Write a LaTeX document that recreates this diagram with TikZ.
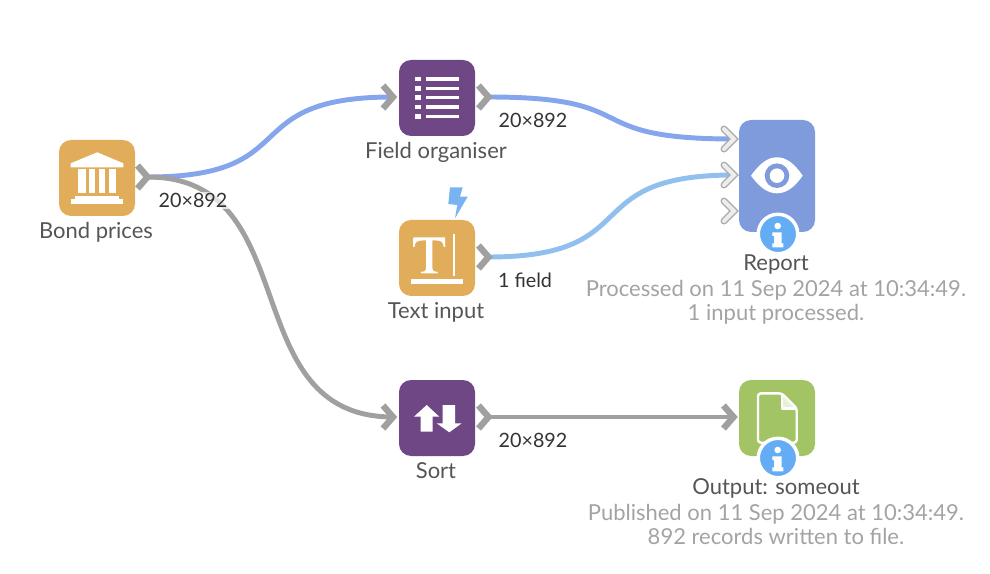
\documentclass[tikz,border=0pt]{standalone}
\usepackage{fontspec}
\setmainfont{Lato}
\usepackage{xcolor}
\usepackage{tikz}
\usetikzlibrary{calc}
\definecolor{ambra}{HTML}{E2AD5A}
\definecolor{viola}{HTML}{6F4785}
\definecolor{azzurro}{HTML}{7F9BDB}
\definecolor{verde}{HTML}{A3C464}
\definecolor{info}{HTML}{64ADF5}
\definecolor{bolt}{HTML}{78B5F0}
\definecolor{linkblue}{HTML}{85A5EC}
\definecolor{linksky}{HTML}{92C0EE}
\definecolor{linkgrey}{HTML}{A0A0A0}
\definecolor{portpale}{HTML}{EDEDED}
\definecolor{testo}{HTML}{555555}
\definecolor{dati}{HTML}{333333}
\definecolor{messaggio}{HTML}{A3A3A3}
\tikzset{
  tool/.style={minimum width=57pt, minimum height=57pt, rounded corners=9pt, inner sep=0pt},
  toolname/.style={anchor=base, text=testo, font=\fontsize{16.5}{20}\selectfont, inner sep=0pt},
  toolmsg/.style={anchor=base, text=messaggio, font=\fontsize{16.5}{20}\selectfont, inner sep=0pt},
  dims/.style={anchor=base, text=dati, font=\fontsize{14.8}{18}\selectfont, inner sep=1pt, fill=white, fill opacity=0.7, text opacity=1},
  link/.style={line width=3.7pt},
  outport/.style={draw=linkgrey, line width=4.8pt},
  inport/.style={draw=portpale, line width=3pt, line cap=round, preaction={draw=linkgrey!90, line width=5.2pt, line cap=round}},
  glyph/.style={fill=white, draw=none},
  badge/.style={circle, fill=info, draw=white, line width=2.6pt, minimum size=29.6pt, inner sep=0pt, outer sep=0pt},
}
\begin{document}
\begin{tikzpicture}[x=0.75pt, y=-0.75pt]
  \useasboundingbox (0,0) rectangle (990,574);

  % Porte di ingresso e uscita
  \coordinate (bondout) at (147.5,177);
  \coordinate (fieldin) at (393,97);
  \coordinate (fieldout) at (488.5,97);
  \coordinate (textout) at (488.5,257);
  \coordinate (sortin) at (393,417);
  \coordinate (sortout) at (488.5,417);
  \coordinate (reportina) at (734,139);
  \coordinate (reportinb) at (734,175);
  \coordinate (reportinc) at (734,211);
  \coordinate (outputin) at (733.5,417);

  % Collegamenti
  \draw[linkblue, link] (bondout) .. controls ($(bondout)+(160,0)$) and ($(fieldin)+(-160,0)$) .. (fieldin);
  \draw[linkblue, link] (fieldout) .. controls ($(fieldout)+(160,0)$) and ($(reportina)+(-160,0)$) .. (reportina);
  \draw[linksky, link] (textout) .. controls ($(textout)+(160,0)$) and ($(reportinb)+(-160,0)$) .. (reportinb);
  \draw[linkgrey, link] (bondout) .. controls ($(bondout)+(160,0)$) and ($(sortin)+(-160,0)$) .. (sortin);
  \draw[linkgrey, link] (sortout) -- (outputin);

  % Frecce delle porte
  \draw[outport] ($(bondout)+(-10,-11.5)$) -- (bondout) -- ($(bondout)+(-10,11.5)$);
  \draw[outport] ($(fieldin)+(-10,-11.5)$) -- (fieldin) -- ($(fieldin)+(-10,11.5)$);
  \draw[outport] ($(fieldout)+(-10,-11.5)$) -- (fieldout) -- ($(fieldout)+(-10,11.5)$);
  \draw[outport] ($(textout)+(-10,-11.5)$) -- (textout) -- ($(textout)+(-10,11.5)$);
  \draw[outport] ($(sortin)+(-10,-11.5)$) -- (sortin) -- ($(sortin)+(-10,11.5)$);
  \draw[outport] ($(sortout)+(-10,-11.5)$) -- (sortout) -- ($(sortout)+(-10,11.5)$);
  \draw[outport] ($(outputin)+(-10,-11.5)$) -- (outputin) -- ($(outputin)+(-10,11.5)$);
  \path[inport] ($(reportina)+(-10,-10)$) -- (reportina) -- ($(reportina)+(-10,10)$);
  \path[inport] ($(reportinb)+(-10,-10)$) -- (reportinb) -- ($(reportinb)+(-10,10)$);
  \path[inport] ($(reportinc)+(-10,-10)$) -- (reportinc) -- ($(reportinc)+(-10,10)$);

  % Riquadri
  \node[tool, fill=ambra] (bond) at (97,178) {};
  \node[tool, fill=viola] (field) at (437,98) {};
  \node[tool, fill=ambra] (textinput) at (437,258) {};
  \node[tool, fill=viola] (sort) at (437,418) {};
  \node[tool, fill=azzurro, minimum height=84pt] (report) at (777,176) {};
  \node[tool, fill=verde] (output) at (777,418) {};

  % Icona banca
  \fill[glyph] (70.7,163.3) -- (97.3,152.3) -- (123.3,163.3) -- (123.3,167.5) -- (70.7,167.5) -- cycle;
  \fill[glyph] (78.3,169) rectangle (85.7,193.5);
  \fill[glyph] (89,169) rectangle (95.3,193.5);
  \fill[glyph] (99,169) rectangle (105.3,193.5);
  \fill[glyph] (108.7,169) rectangle (116,193.5);
  \fill[glyph] (75,196) rectangle (119,199);
  \fill[glyph] (71,199.3) rectangle (123,204);

  % Icona elenco
  \fill[glyph] (415,76.7) rectangle (420.7,81.3);
  \fill[glyph] (415,86) rectangle (420.7,90.6);
  \fill[glyph] (415,95.4) rectangle (420.7,100);
  \fill[glyph] (415,104.7) rectangle (420.7,109.3);
  \fill[glyph] (415,114.4) rectangle (420.7,119);
  \fill[glyph] (426,77.3) rectangle (459.3,80.6);
  \fill[glyph] (426,86.6) rectangle (459.3,89.9);
  \fill[glyph] (426,96) rectangle (459.3,99.3);
  \fill[glyph] (426,105.3) rectangle (459.3,108.6);
  \fill[glyph] (426,115) rectangle (459.3,118.3);

  % Icona testo
  \fill[glyph] (413.3,237.3) -- (445,237.3) -- (445.3,247) -- (443.8,247) .. controls (443.3,242) and (441.5,240.5) .. (436,240.5) -- (432.3,240.5) -- (432.3,268.5) .. controls (432.3,271) and (434,271.8) .. (437.5,271.8) -- (437.5,273.5) -- (421,273.5) -- (421,271.8) .. controls (424.5,271.8) and (426.2,271) .. (426.2,268.5) -- (426.2,240.5) -- (422.5,240.5) .. controls (417,240.5) and (415,242) .. (414.5,247) -- (413,247) -- cycle;
  \fill[glyph] (452.7,234) rectangle (455.3,276);
  \fill[glyph] (411,278.7) rectangle (462.7,284);
  \fill[bolt] (450,187.3) -- (462.7,187.3) -- (460,196.7) -- (467.7,196.7) -- (455,218.3) -- (457.3,205) -- (448.3,204) -- cycle;

  % Icona ordinamento
  \fill[glyph] (426.7,405) -- (439.3,416.7) -- (432.7,416.7) -- (432.7,431.7) -- (420.7,431.7) -- (420.7,416.7) -- (414,416.7) -- cycle;
  \fill[glyph] (442.7,405) -- (455,405) -- (455,423.3) -- (461.7,423.3) -- (449.3,432.3) -- (436.7,423.3) -- (442.7,423.3) -- cycle;

  % Icona occhio
  \fill[glyph] (751,175.7) .. controls (760,163) and (768,157.3) .. (777,157.3) .. controls (786,157.3) and (794,163) .. (802.7,175.7) .. controls (794,188) and (786,193.3) .. (777,193.3) .. controls (768,193.3) and (760,188) .. (751,175.7) -- cycle;
  \fill[azzurro] (777,175.7) circle (12.3);
  \fill[glyph] (777,175.7) circle (7.3);

  % Icona file
  \draw[white, line width=1.8pt, line join=round, rounded corners=2.2pt] (781.7,393.3) -- (758,393.3) -- (758,442.7) -- (796.7,442.7) -- (796.7,408.3) -- cycle;
  \fill[white, opacity=0.75] (782.7,395.5) -- (795,407.5) -- (782.7,407.5) -- cycle;
  \draw[white, line width=1.8pt, line join=round] (781.7,393.3) -- (781.7,408.3) -- (796.7,408.3);

  % Distintivi informazione
  \node[badge] (reportinfo) at (778,234) {};
  \fill[glyph] (777.7,226) circle (3.3);
  \fill[glyph] (772.3,232.3) -- (781.7,232.3) -- (781.7,243.3) -- (783.3,243.3) -- (783.3,247.3) -- (772.3,247.3) -- (772.3,243.3) -- (774,243.3) -- (774,236) -- (772.3,236) -- cycle;
  \node[badge] (outputinfo) at (778,458) {};
  \fill[glyph] (777.7,450) circle (3.3);
  \fill[glyph] (772.3,456.3) -- (781.7,456.3) -- (781.7,467.3) -- (783.3,467.3) -- (783.3,471.3) -- (772.3,471.3) -- (772.3,467.3) -- (774,467.3) -- (774,460) -- (772.3,460) -- cycle;

  % Etichette strumenti
  \node[toolname] (bondname) at (96,238.3) {Bond prices};
  \node[toolname] (fieldname) at (436,158.3) {Field organiser};
  \node[toolname] (textname) at (436,318.3) {Text input};
  \node[toolname] (sortname) at (436,478.3) {Sort};
  \node[toolname] (reportname) at (776,270.7) {Report};
  \node[toolname] (outputname) at (776,494.7) {Output: someout};

  % Messaggi
  \node[toolmsg] (reportmsga) at (776,296.7) {Processed on 11 Sep 2024 at 10:34:49.};
  \node[toolmsg] (reportmsgb) at (776,320.7) {1 input processed.};
  \node[toolmsg] (outputmsga) at (776,520.7) {Published on 11 Sep 2024 at 10:34:49.};
  \node[toolmsg] (outputmsgb) at (776,544.7) {892 records written to file.};

  % Etichette dati
  \node[dims] (bonddims) at (193,207.3) {20×892};
  \node[dims] (fielddims) at (533,127.3) {20×892};
  \node[dims] (textdims) at (525,287.3) {1 field};
  \node[dims] (sortdims) at (533,447.3) {20×892};
\end{tikzpicture}
\end{document}
